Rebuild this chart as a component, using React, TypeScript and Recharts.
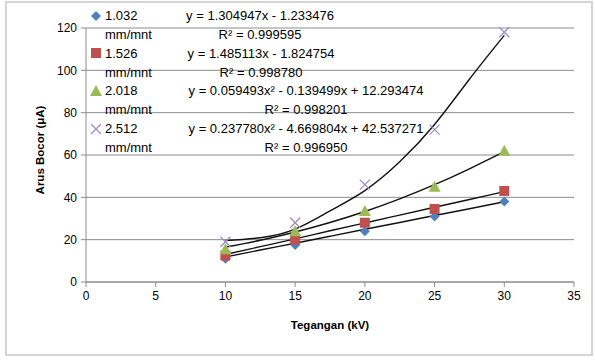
import React from 'react';
import { ComposedChart, Scatter, Line, XAxis, YAxis, CartesianGrid } from 'recharts';

const voltages = [10, 15, 20, 25, 30];
const xTicks = [0, 5, 10, 15, 20, 25, 30, 35];
const yTicks = [0, 20, 40, 60, 80, 100, 120];

const current1032 = [11, 17.5, 24, 31, 38];
const current1526 = [12.5, 20, 28, 34.5, 43];
const current2018 = [15.5, 24, 33.5, 45, 62];
const current2512 = [19, 28, 46, 72, 118];

// trendline readings
const trendX = [10, 12.5, 15, 17.5, 20, 22.5, 25, 27.5, 30];
const trend1032 = [11.8, 15.1, 18.3, 21.6, 24.9, 28.1, 31.4, 34.6, 37.9];
const trend1526 = [13.0, 16.7, 20.4, 24.2, 27.9, 31.6, 35.3, 39.0, 42.7];
const trend2018 = [16.5, 19.7, 23.6, 28.1, 33.3, 39.3, 46.0, 53.5, 61.6];
const trend2512 = [19.6, 20.9, 25.0, 33.6, 43.2, 56.8, 74.4, 95.8, 116.5];

const seriesNames = ['1.032', '1.526', '2.018', '2.512'];
const equations = [
  'y = 1.304947x - 1.233476',
  'y = 1.485113x - 1.824754',
  'y = 0.059493x² - 0.139499x + 12.293474',
  'y = 0.237780x² - 4.669804x + 42.537271',
];
const rSquared = ['R² = 0.999595', 'R² = 0.998780', 'R² = 0.998201', 'R² = 0.996950'];

const colors = ['#4F81BD', '#C0504D', '#9BBB59', '#A08CC4'];
const font = '"Liberation Sans", Arial, sans-serif';

const toPoints = (xs: number[], ys: number[]) => xs.map((x, i) => ({ x, y: ys[i] }));

const Diamond = (p: any) => (
  <path d={`M${p.cx},${p.cy - 5} L${p.cx + 5},${p.cy} L${p.cx},${p.cy + 5} L${p.cx - 5},${p.cy} Z`} fill={colors[0]} />
);
const Square = (p: any) => <rect x={p.cx - 5} y={p.cy - 5} width={10} height={10} fill={colors[1]} />;
const Triangle = (p: any) => (
  <path d={`M${p.cx},${p.cy - 6} L${p.cx + 6},${p.cy + 5} L${p.cx - 6},${p.cy + 5} Z`} fill={colors[2]} />
);
const Cross = (p: any) => (
  <path
    d={`M${p.cx - 5},${p.cy - 5} L${p.cx + 5},${p.cy + 5} M${p.cx + 5},${p.cy - 5} L${p.cx - 5},${p.cy + 5}`}
    stroke={colors[3]}
    strokeWidth={1.3}
    fill="none"
  />
);
const shapes = [Diamond, Square, Triangle, Cross];

const LegendMark = ({ index }: { index: number }) => {
  const Shape = shapes[index];
  return (
    <svg width={12} height={12} style={{ display: 'block' }}>
      <Shape cx={6} cy={6} />
    </svg>
  );
};

export default function App() {
  const scatterData = [current1032, current1526, current2018, current2512].map((ys) => toPoints(voltages, ys));
  const trendData = [trend1032, trend1526, trend2018, trend2512].map((ys) => toPoints(trendX, ys));
  const eqCenters = [260, 261, 306, 306];

  return (
    <div style={{ position: 'fixed', left: 0, top: 0, width: 595, height: 360, background: '#fff', fontFamily: font }}>
      <div style={{ position: 'absolute', left: 5, top: 1, width: 584, height: 351, border: '2px solid #d4d4d4' }} />
      <ComposedChart width={595} height={360} margin={{ top: 28, right: 21, bottom: 28, left: 0 }}>
        <CartesianGrid vertical={false} stroke="#8c8c8c" strokeWidth={1} />
        <XAxis
          type="number"
          dataKey="x"
          domain={[0, 35]}
          ticks={xTicks}
          height={50}
          stroke="#8c8c8c"
          tickSize={5}
          tickMargin={4}
          tick={{ fill: '#000', fontSize: 12, fontFamily: font }}
        />
        <YAxis
          type="number"
          dataKey="y"
          domain={[0, 120]}
          ticks={yTicks}
          width={86}
          stroke="#8c8c8c"
          tickSize={5}
          tickMargin={4}
          tick={{ fill: '#000', fontSize: 12, fontFamily: font }}
        />
        {scatterData.map((d, i) => (
          <Scatter key={`s-${i}`} data={d} dataKey="y" shape={shapes[i]} isAnimationActive={false} />
        ))}
        {trendData.map((d, i) => (
          <Line
            key={`t-${i}`}
            data={d}
            dataKey="y"
            type="natural"
            stroke="#111"
            strokeWidth={1.4}
            dot={false}
            activeDot={false}
            isAnimationActive={false}
          />
        ))}
      </ComposedChart>

      {seriesNames.map((name, i) => (
        <div key={name} style={{ position: 'absolute', left: 90, top: 6 + i * 37.7, fontSize: 13, lineHeight: '19px' }}>
          <div style={{ display: 'flex', alignItems: 'center' }}>
            <LegendMark index={i} />
            <span style={{ marginLeft: 3 }}>{name}</span>
          </div>
          <div style={{ marginLeft: 15 }}>mm/mnt</div>
        </div>
      ))}
      {equations.map((eq, i) => (
        <React.Fragment key={eq}>
          <div
            style={{
              position: 'absolute',
              left: eqCenters[i] - 150,
              width: 300,
              textAlign: 'center',
              top: 6 + i * 37.7,
              fontSize: 13,
              lineHeight: '19px',
              whiteSpace: 'nowrap',
            }}
          >
            {eq}
          </div>
          <div
            style={{
              position: 'absolute',
              left: eqCenters[i] - 150,
              width: 300,
              textAlign: 'center',
              top: 25 + i * 37.7,
              fontSize: 13,
              lineHeight: '19px',
            }}
          >
            {rSquared[i]}
          </div>
        </React.Fragment>
      ))}

      <div
        style={{
          position: 'absolute',
          left: 40 - 60,
          top: 150 - 8,
          width: 120,
          textAlign: 'center',
          fontSize: 11.5,
          fontWeight: 'bold',
          lineHeight: '16px',
          transform: 'rotate(-90deg)',
        }}
      >
        Arus Bocor (μA)
      </div>
      <div
        style={{
          position: 'absolute',
          left: 330 - 80,
          top: 317,
          width: 160,
          textAlign: 'center',
          fontSize: 11.5,
          fontWeight: 'bold',
          lineHeight: '16px',
        }}
      >
        Tegangan (kV)
      </div>
    </div>
  );
}
